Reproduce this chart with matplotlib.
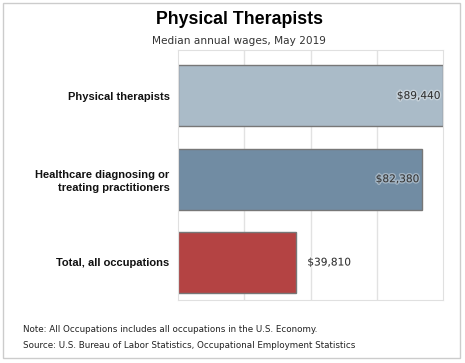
import matplotlib.pyplot as plt
import matplotlib.patheffects as pe
from matplotlib.patches import Rectangle

categories = ['Physical therapists', 'Healthcare diagnosing or\ntreating practitioners', 'Total, all occupations']
wages = [89440, 82380, 39810]
wage_labels = ['$89,440', '$82,380', '$39,810']
colors = ['#aabbc8', '#718ca3', '#b44343']

fig = plt.figure(figsize=(4.65, 3.63), dpi=100)
W, H = 465, 363

# outer frame
fig.patches.append(Rectangle((3 / W, 1 - 358 / H), 457 / W, 355 / H, transform=fig.transFigure,
                             fill=False, edgecolor='#cccccc', linewidth=1))

ax = fig.add_axes([178 / W, 1 - 300 / H, 265 / W, 250 / H])
pos = list(range(len(categories)))
ax.barh(pos, wages, height=0.73, color=colors, edgecolor='#777777', linewidth=1, zorder=2)

ax.set_xlim(0, 89440)
ax.set_ylim(2.45, -0.55)
ax.set_xticks([89440 * k / 4 for k in range(1, 4)])
ax.set_xticklabels([])
ax.tick_params(axis='x', length=0)
ax.grid(axis='x', color='#e2e2e2', linewidth=1, zorder=0)
ax.set_yticks(pos)
ax.set_yticklabels(categories, fontsize=8, fontweight='bold', family='Liberation Sans',
                   color='#111111', ha='right', linespacing=1.3)
ax.tick_params(axis='y', length=0, pad=6)
for s in ax.spines.values():
    s.set_color('#e0e0e0')

fx = [pe.withStroke(linewidth=2, foreground='#ffffff', alpha=0.35)]
for i, (w, lab) in enumerate(zip(wages, wage_labels)):
    if w > 60000:
        ax.text(w - 89440 * 0.01, i, lab, ha='right', va='center', fontsize=7.6,
                color='#333333', path_effects=fx, zorder=3, clip_on=False)
    else:
        ax.text(w + 89440 * 0.043, i, lab, ha='left', va='center', fontsize=7.6,
                color='#333333', path_effects=fx, zorder=3)

fig.text(239 / W, 1 - 20 / H, 'Physical Therapists', ha='center', va='center', fontsize=12.8,
         fontweight='bold', family='Liberation Sans', color='#000000')
fig.text(239 / W, 1 - 41 / H, 'Median annual wages, May 2019', ha='center', va='center',
         fontsize=7.6, color='#333333')
fig.text(23 / W, 1 - 329 / H, 'Note: All Occupations includes all occupations in the U.S. Economy.',
         ha='left', va='center', fontsize=6.35, color='#222222')
fig.text(23 / W, 1 - 345 / H, 'Source: U.S. Bureau of Labor Statistics, Occupational Employment Statistics',
         ha='left', va='center', fontsize=6.35, color='#222222')

fig.savefig('out.png', dpi=100)
